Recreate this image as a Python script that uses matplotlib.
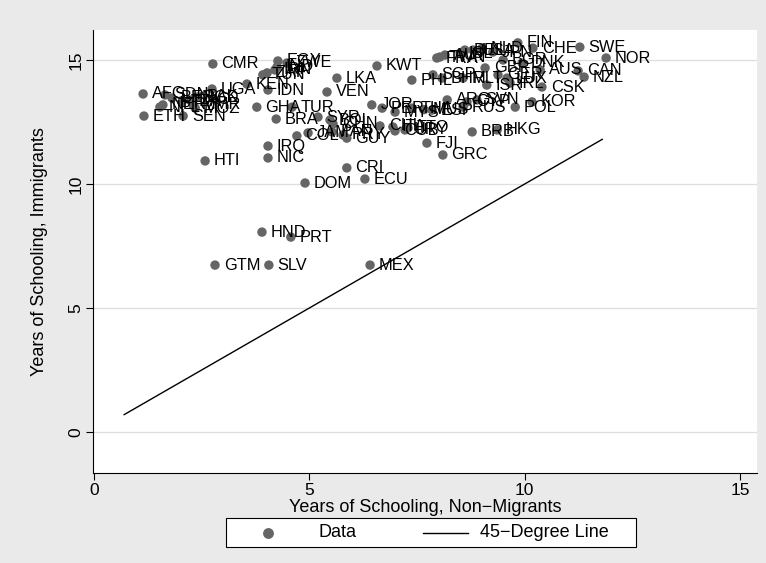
import matplotlib
matplotlib.use("Agg")
import matplotlib.pyplot as plt
from matplotlib.lines import Line2D
from matplotlib.patches import Rectangle

plt.rcParams['font.family'] = ['Liberation Sans', 'DejaVu Sans']

# Country codes and average years of schooling
countries = [
    "AFG", "ETH", "SEN", "NER", "SDN", "NPL", "BEN", "TZA", "LAO", "BGD",
    "PAK", "MMR", "MOZ", "UGA", "HTI", "CMR", "GTM", "KEN", "GHA", "IDN",
    "IRQ", "NIC", "HND", "SLV", "PRT", "EGY", "ZWE", "IND", "IRN", "ZAF",
    "TUN", "TUR", "BRA", "COL", "JAM", "DOM", "SYR", "BOL", "CHN", "PAN",
    "PRY", "GUY", "VEN", "LKA", "KWT", "CRI", "ECU", "MEX", "JOR", "PER",
    "MYS", "THA", "MUS", "ESP", "CHL", "ITA", "CUB", "URY", "TTO", "FJI",
    "GRC", "BRB", "HKG", "POL", "KOR", "ARG", "CYP", "SVN", "RUS", "CSK",
    "ISR", "PHL", "SGP", "BHR", "MLT", "GBR", "GER", "LUX", "IRL", "DNK",
    "AUS", "CAN", "NZL", "SWE", "NOR", "CHE", "FIN", "FRA", "TWN", "AUT",
    "ISL", "BEL", "USA", "NLD", "JPN", "BGR",
]

school_nonmigrants = [
    1.14, 1.16, 2.07, 1.60, 1.65, 1.53, 1.81, 2.04, 2.23, 2.35,
    2.41, 2.30, 2.35, 2.74, 2.58, 2.76, 2.81, 3.55, 3.78, 4.04,
    4.04, 4.04, 3.90, 4.06, 4.57, 4.27, 4.48, 4.25, 4.20, 4.02,
    3.92, 4.60, 4.23, 4.71, 4.97, 4.90, 5.20, 5.48, 5.55, 5.53,
    5.78, 5.87, 5.41, 5.64, 6.57, 5.87, 6.29, 6.41, 6.45, 6.69,
    6.99, 7.38, 7.66, 7.85, 6.64, 6.94, 6.99, 7.22, 7.29, 7.73,
    8.10, 8.78, 9.36, 9.78, 10.17, 8.20, 8.66, 8.89, 8.57, 10.40,
    9.12, 7.38, 7.87, 8.08, 8.57, 9.08, 9.38, 9.59, 9.66, 9.94,
    10.36, 11.24, 11.38, 11.28, 11.89, 10.19, 9.84, 7.96, 8.03, 8.15,
    8.50, 8.61, 8.80, 9.01, 9.26, 9.50,
]

school_immigrants = [
    13.63, 12.74, 12.74, 13.19, 13.59, 13.10, 13.47, 13.31, 13.39, 13.47,
    13.51, 13.19, 13.06, 13.83, 10.93, 14.84, 6.73, 14.03, 13.10, 13.79,
    11.53, 11.05, 8.06, 6.73, 7.86, 14.96, 14.88, 14.72, 14.60, 14.48,
    14.40, 13.10, 12.62, 11.94, 12.06, 10.04, 12.70, 12.58, 12.42, 12.10,
    11.98, 11.85, 13.71, 14.27, 14.76, 10.65, 10.20, 6.73, 13.19, 13.06,
    12.90, 13.06, 13.00, 12.98, 12.34, 12.30, 12.14, 12.18, 12.26, 11.65,
    11.17, 12.10, 12.18, 13.10, 13.31, 13.39, 13.31, 13.39, 13.10, 13.91,
    13.99, 14.19, 14.40, 14.27, 14.27, 14.68, 14.40, 14.27, 14.07, 14.88,
    14.60, 14.56, 14.31, 15.52, 15.08, 15.48, 15.69, 15.08, 15.12, 15.20,
    15.28, 15.40, 15.40, 15.48, 15.32, 15.00,
]

line_range = [0.7, 11.8]
x_ticks = [0, 5, 10, 15]
y_ticks = [0, 5, 10, 15]
legend_labels = ["Data", "45\u2212Degree Line"]

W, H = 766, 563
MARKER_GRAY = "#656565"
fig = plt.figure(figsize=(W / 100, H / 100), dpi=100)
fig.patch.set_facecolor("#eaeaea")

# plot region in pixel coordinates
left, right, top, bottom = 93, 757, 30, 473
ax = fig.add_axes([left / W, 1 - bottom / H, (right - left) / W, (bottom - top) / H])
ax.set_facecolor("white")

x0_px, x_scale = 94, 43.07
y0_px, y_scale = 432, 24.8
ax.set_xlim((left - x0_px) / x_scale, (right - x0_px) / x_scale)
ax.set_ylim((y0_px - bottom) / y_scale, (y0_px - top) / y_scale)

for yt in y_ticks:
    ax.axhline(yt, color="#dedede", lw=0.9, zorder=0)

ax.scatter(school_nonmigrants, school_immigrants, s=46, color=MARKER_GRAY,
           edgecolor="none", zorder=3)
for name, xv, yv in zip(countries, school_nonmigrants, school_immigrants):
    ax.annotate(name, (xv, yv), xytext=(6.3, 0), textcoords="offset points",
                ha="left", va="center", fontsize=11.8, color="black", zorder=4)

ax.plot(line_range, line_range, color="black", lw=1.0, zorder=2)

ax.set_xticks(x_ticks)
ax.set_yticks(y_ticks)
ax.tick_params(axis="both", labelsize=12.5, length=5, width=0.8, color="black")
ax.tick_params(axis="y", pad=2)
ax.tick_params(axis="x", pad=2)
for lbl in ax.get_yticklabels():
    lbl.set_rotation(90)
    lbl.set_va("center")
for side in ["top", "right"]:
    ax.spines[side].set_visible(False)
for side in ["left", "bottom"]:
    ax.spines[side].set_linewidth(0.8)

ax.set_xlabel("Years of Schooling, Non\u2212Migrants", fontsize=13, va="center")
ax.xaxis.set_label_coords(0.5, (bottom - 507) / (bottom - top))
ax.set_ylabel("Years of Schooling, Immigrants", fontsize=13, va="center")
ax.yaxis.set_label_coords((40 - left) / (right - left), 0.5)

# legend box drawn in figure pixel coordinates
def fx(px):
    return px / W

def fy(py):
    return 1 - py / H

box_l, box_r, box_t, box_b = 226, 636, 518, 547
fig.patches.append(Rectangle((fx(box_l), fy(box_b)), fx(box_r) - fx(box_l),
                             fy(box_t) - fy(box_b), transform=fig.transFigure,
                             facecolor="white", edgecolor="black", lw=0.8))
mid_y = (box_t + box_b) / 2
fig.lines.append(Line2D([fx(268)], [fy(mid_y)], marker="o", markersize=6.8,
                        color=MARKER_GRAY, linestyle="none",
                        transform=fig.transFigure))
fig.text(fx(318), fy(mid_y), legend_labels[0], fontsize=13, va="center", ha="left")
fig.lines.append(Line2D([fx(423), fx(468)], [fy(mid_y), fy(mid_y)], color="black",
                        lw=1.0, transform=fig.transFigure))
fig.text(fx(480), fy(mid_y), legend_labels[1], fontsize=13, va="center", ha="left")

fig.savefig("out.png", dpi=100, facecolor=fig.get_facecolor())
